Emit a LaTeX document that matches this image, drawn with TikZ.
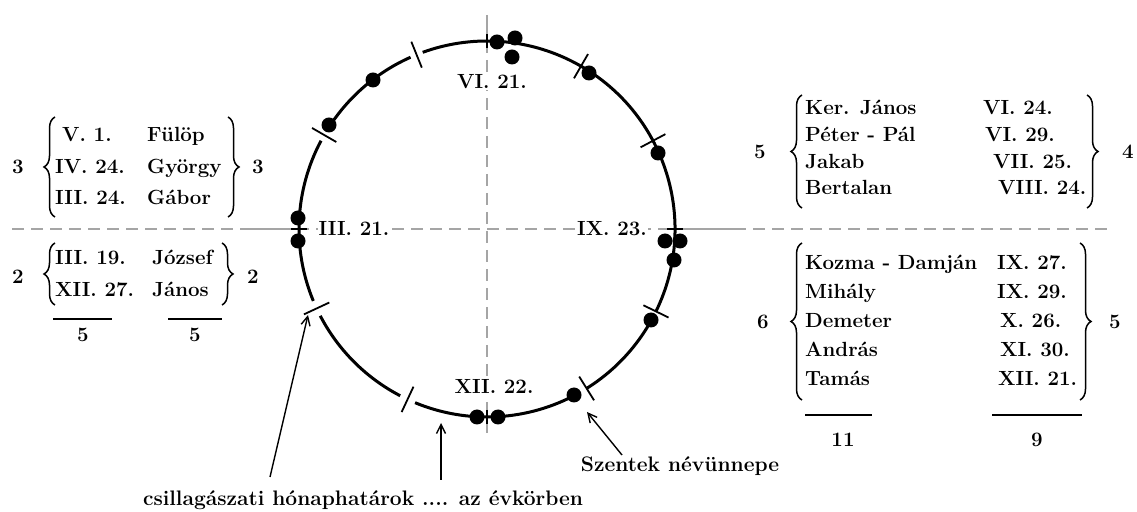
\documentclass[tikz,border=0pt]{standalone}
\usepackage{fontspec}
\usepackage{tikz}
\usetikzlibrary{arrows.meta,calc,decorations.pathreplacing}
\definecolor{axisgrey}{RGB}{165,165,165}

\begin{document}
\begin{tikzpicture}[x=1pt, y=1pt, font=\fontsize{20.5}{24}\selectfont\bfseries,
    row/.style={inner sep=0pt, anchor=west, text height=14pt, text depth=0pt},
    cnt/.style={inner sep=0pt, text height=14pt, text depth=0pt},
    cardinal/.style={cnt, fill=white, inner sep=1pt},
    brc/.style={decorate, decoration={brace, amplitude=11pt, aspect=0.5}, line width=1.5pt},
    axis/.style={axisgrey, line width=1.3pt},
    note/.style={inner sep=0pt, font=\fontsize{21}{25}\selectfont\bfseries},
    pointer/.style={-{Straight Barb[length=9pt,width=9pt]}, line width=1.4pt}]

    \useasboundingbox (0,0) rectangle (1137,511);

    % Axes of the year circle
    \draw[axis, dash pattern=on 12pt off 7pt] (12,282) -- (1113,282);
    \draw[axis] (250,282) -- (299,282) (675,282) -- (740,282);
    \draw[axis, dash pattern=on 12pt off 7pt] (487,470) -- (487,74);
    \draw[axis] (487,496) -- (487,470);

    % Year circle (drawn in pieces, small breaks at some boundaries)
    \coordinate (c) at (487,282);
    \foreach \s/\e in {-152.5/-117.5, -112.5/-61, -58/-30, -26/110, 114/148, 152/202.5}{
      \draw[line width=3pt] ($(c)+(\s:188)$) arc[start angle=\s, end angle=\e, radius=188];
    }

    % Month boundaries
    \foreach \a/\l in {90/7, 60/14, 28/14, 0/8, -26/14, -58/14, -90/7,
                       -115/14, -155/14, 180/8, 150/14, 112/14}{
      \draw[line width=1.8pt] ($(c)+(\a:{188-\l})$) -- ($(c)+(\a:{188+\l})$);
    }

    % Name days
    \foreach \p in {(497,469),(515,473),(512,454),(589,438),(658,358),
                    (665,270),(680,270),(674,251),(651,191),(574,116),
                    (477,94),(498,94),(298,293),(298,270),(329,386),(373,431)}{
      \fill \p circle (7.5);
    }

    % Solstices and equinoxes
    \node[cardinal] (vi)   at (492,429) {VI. 21.};
    \node[cardinal] (iii)  at (354,282) {III. 21.};
    \node[cardinal] (ix)   at (612,282) {IX. 23.};
    \node[cardinal] (xii)  at (494,124) {XII. 22.};

    % Upper left block
    \foreach \y/\dx/\d/\n [count=\i] in {376/62/{V. 1.}/Fülöp,
                                         344/55/{IV. 24.}/György,
                                         313/55/{III. 24.}/Gábor}{
      \node[row] (uld\i) at (\dx,\y) {\d};
      \node[row] (uln\i) at (147,\y) {\n};
    }
    \draw[brc] (55,294) -- (55,394);
    \draw[brc] (228,394) -- (228,294);
    \node[cnt] (ulc1) at (18,344) {3};
    \node[cnt] (ulc2) at (258,344) {3};

    % Lower left block
    \foreach \y/\d/\n [count=\i] in {253/{III. 19.}/József,
                                     221/{XII. 27.}/János}{
      \node[row] (lld\i) at (55,\y) {\d};
      \node[row] (lln\i) at (152,\y) {\n};
    }
    \draw[brc] (55,206) -- (55,268);
    \draw[brc] (222,268) -- (222,206);
    \node[cnt] (llc1) at (18,234) {2};
    \node[cnt] (llc2) at (253,234) {2};

    % Left totals
    \draw[line width=1.6pt] (53,192) -- (112,192);
    \draw[line width=1.6pt] (168,192) -- (222,192);
    \node[cnt] (lsum1) at (83,176) {5};
    \node[cnt] (lsum2) at (195,176) {5};

    % Upper right block
    \foreach \y/\dx/\n/\d [count=\i] in {403/983/{Ker. János}/{VI. 24.},
                                         376/985/{Péter - Pál}/{VI. 29.},
                                         349/993/Jakab/{VII. 25.},
                                         323/998/Bertalan/{VIII. 24.}}{
      \node[row] (urn\i) at (805,\y) {\n};
      \node[row] (urd\i) at (\dx,\y) {\d};
    }
    \draw[brc] (802,303) -- (802,416);
    \draw[brc] (1087,416) -- (1087,303);
    \node[cnt] (urc1) at (760,359) {5};
    \node[cnt] (urc2) at (1128,359) {4};

    % Lower right block
    \foreach \y/\dx/\n/\d [count=\i] in {248/997/{Kozma - Damján}/{IX. 27.},
                                         219/997/Mihály/{IX. 29.},
                                         190/1000/Demeter/{X. 26.},
                                         161/1000/András/{XI. 30.},
                                         132/998/Tamás/{XII. 21.}}{
      \node[row] (lrn\i) at (805,\y) {\n};
      \node[row] (lrd\i) at (\dx,\y) {\d};
    }
    \draw[brc] (802,111) -- (802,268);
    \draw[brc] (1080,268) -- (1080,111);
    \node[cnt] (lrc1) at (763,189) {6};
    \node[cnt] (lrc2) at (1115,189) {5};

    % Right totals
    \draw[line width=1.6pt] (805,96) -- (872,96);
    \draw[line width=1.6pt] (992,96) -- (1082,96);
    \node[cnt] (rsum1) at (843,71) {11};
    \node[cnt] (rsum2) at (1037,71) {9};

    % Captions and pointers
    \node[note] (csil) at (363,11) {csillagászati hónaphatárok .... az évkörben};
    \node[note] (szent) at (680,45) {Szentek névünnepe};
    \coordinate (t1) at (270,34);  \coordinate (h1) at (308,196);
    \coordinate (t2) at (441,31);  \coordinate (h2) at (441,88);
    \coordinate (t3) at (622,56);  \coordinate (h3) at (587,99);
    \draw[pointer] (t1) -- (h1);
    \draw[pointer] (t2) -- (h2);
    \draw[pointer] (t3) -- (h3);

\end{tikzpicture}
\end{document}
